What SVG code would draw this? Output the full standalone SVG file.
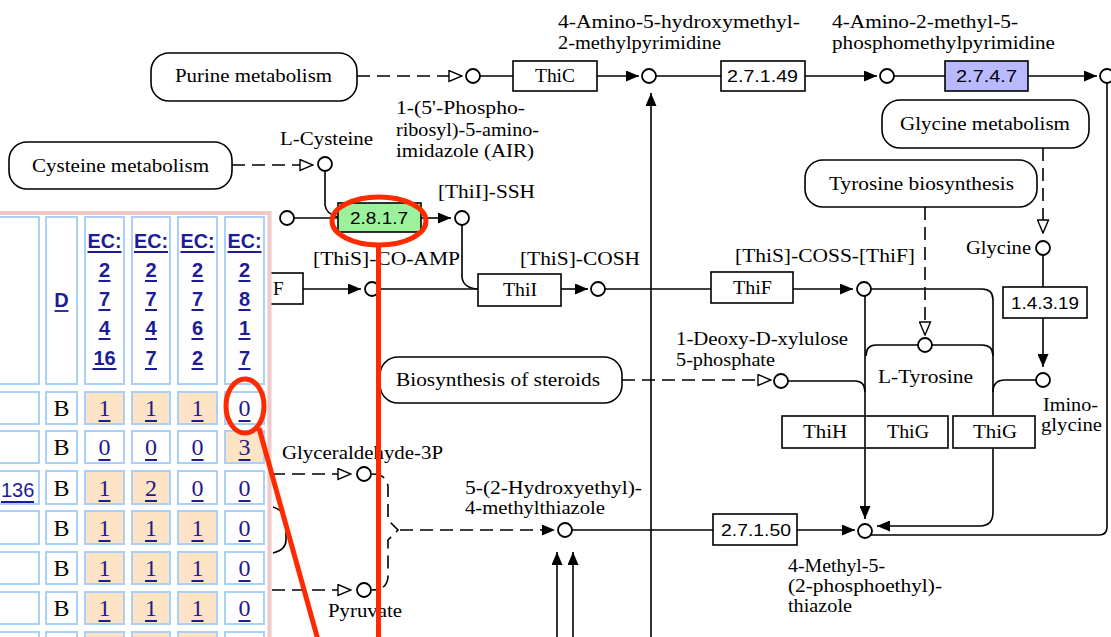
<svg xmlns="http://www.w3.org/2000/svg" width="1111" height="637" viewBox="0 0 1111 637">
<style>
.l{font-family:"Liberation Serif","DejaVu Serif",serif;font-size:19px;fill:#000}
.ec{font-family:"Liberation Sans",Arial,sans-serif;font-size:17px;fill:#000}
.ln{fill:none;stroke:#000;stroke-width:1.6}
.dl{fill:none;stroke:#000;stroke-width:1.6;stroke-dasharray:13 7}
.box{fill:#fff;stroke:#000;stroke-width:1.6}
.map{fill:#fff;stroke:#000;stroke-width:1.6}
.cpd{fill:#fff;stroke:#000;stroke-width:1.8}
.cell{fill:#fff;stroke:#a8d0f8;stroke-width:2}
.pc{fill:#fde4c6;stroke:#a8d0f8;stroke-width:2}
.th{font-family:"Liberation Sans",Arial,sans-serif;font-size:20px;font-weight:bold;fill:#1c1c96;text-anchor:middle}
.td{font-family:"Liberation Serif","DejaVu Serif",serif;font-size:24px;fill:#261a8a;text-anchor:middle}
.tb{font-family:"Liberation Serif","DejaVu Serif",serif;font-size:24px;fill:#000;text-anchor:middle}
.ul{stroke:#1c1c96;stroke-width:1.8}
.red{fill:none;stroke:#ff2a00;stroke-width:5}
</style>
<defs>
<marker id="fa" viewBox="0 0 13 11" refX="13" refY="5.5" markerWidth="13" markerHeight="11" markerUnits="userSpaceOnUse" orient="auto"><path d="M0,0 L13,5.5 L0,11 z" fill="#000"/></marker>
<marker id="ha" viewBox="-1 -1 15 13" refX="13" refY="5.5" markerWidth="15" markerHeight="13" markerUnits="userSpaceOnUse" orient="auto"><path d="M0,0 L13,5.5 L0,11 z" fill="#fff" stroke="#000" stroke-width="1.4"/></marker>
</defs>
<rect x="0" y="0" width="1111" height="637" fill="#fff"/>

<g id="connectors">
<path class="dl" d="M357,76 H462" marker-end="url(#ha)"/>
<path class="ln" d="M480,76 H513"/>
<path class="ln" d="M597,76 H639" marker-end="url(#fa)"/>
<path class="ln" d="M656,76 H721"/>
<path class="ln" d="M805,76 H877" marker-end="url(#fa)"/>
<path class="ln" d="M894,76 H945"/>
<path class="ln" d="M1028,76 H1097" marker-end="url(#fa)"/>
<path class="ln" d="M1107,83 V527 Q1107,535 1099,535 H871"/>
<path class="ln" d="M651,637 V93" marker-end="url(#fa)"/>
<path class="dl" d="M232,165 H313" marker-end="url(#ha)"/>
<path class="ln" d="M325,171 V205 Q326,214 338,217"/>
<path class="ln" d="M294,218 H338"/>
<path class="ln" d="M421,218 H451" marker-end="url(#fa)"/>
<path class="ln" d="M462,225 V277 Q463,288 478,289"/>
<path class="ln" d="M303,289 H361" marker-end="url(#fa)"/>
<path class="ln" d="M379,289 H478"/>
<path class="ln" d="M561,289 H588" marker-end="url(#fa)"/>
<path class="ln" d="M605,289 H711"/>
<path class="ln" d="M793,289 H853" marker-end="url(#fa)"/>
<path class="ln" d="M871,289 H982 Q993,289 993,300 V416"/>
<path class="ln" d="M993,448 V512 Q993,526 980,526 H877" marker-end="url(#fa)"/>
<path class="ln" d="M865,296 V519" marker-end="url(#fa)"/>
<path class="dl" d="M925,207 V335" marker-end="url(#ha)"/>
<path class="ln" d="M918,345 H876 Q866,345 866,356"/>
<path class="ln" d="M932,345 H982 Q993,345 993,356"/>
<path class="dl" d="M1043,148 V233" marker-end="url(#ha)"/>
<path class="ln" d="M1043,255 V287"/>
<path class="ln" d="M1043,318 V367" marker-end="url(#fa)"/>
<path class="ln" d="M1036,380 H1005 Q993,380 993,392"/>
<path class="dl" d="M622,380 H771" marker-end="url(#ha)"/>
<path class="ln" d="M788,381 H855 Q865,381 865,392"/>
<path class="dl" d="M272,474 H351" marker-end="url(#ha)"/>
<path class="dl" d="M272,590 H351" marker-end="url(#ha)"/>
<path class="dl" d="M372,474 Q387,474 388,487 V520 L398,530 L388,540 V577 Q387,590 372,590"/>
<path class="dl" d="M400,530 H555" marker-end="url(#fa)"/>
<path class="ln" d="M572,530 H713"/>
<path class="ln" d="M797,530 H855" marker-end="url(#fa)"/>
<path class="ln" d="M557,637 V552" marker-end="url(#fa)"/>
<path class="ln" d="M573,637 V552" marker-end="url(#fa)"/>
<path class="ln" d="M273,507 Q286,511 286,524 V540 Q286,550 273,553"/>
</g>

<g id="map-purine"><rect class="map" x="151" y="53" width="206" height="48" rx="18"/><text class="l" x="175" y="82" textLength="157" lengthAdjust="spacingAndGlyphs">Purine metabolism</text></g>
<g id="map-cysteine"><rect class="map" x="9" y="142" width="223" height="47" rx="18"/><text class="l" x="32" y="172" textLength="177" lengthAdjust="spacingAndGlyphs">Cysteine metabolism</text></g>
<g id="map-glycine"><rect class="map" x="882" y="100" width="207" height="48" rx="18"/><text class="l" x="900" y="130" textLength="170" lengthAdjust="spacingAndGlyphs">Glycine metabolism</text></g>
<g id="map-tyrosine"><rect class="map" x="805" y="160" width="232" height="47" rx="18"/><text class="l" x="829" y="190" textLength="185" lengthAdjust="spacingAndGlyphs">Tyrosine biosynthesis</text></g>
<g id="map-steroids"><rect class="map" x="380" y="357" width="242" height="46" rx="18"/><text class="l" x="396" y="386" textLength="204" lengthAdjust="spacingAndGlyphs">Biosynthesis of steroids</text></g>

<g id="c-air"><circle class="cpd" cx="473" cy="76" r="7"/><text class="l" x="396" y="114" textLength="129" lengthAdjust="spacingAndGlyphs">1-(5'-Phospho-</text><text class="l" x="396" y="136" textLength="143" lengthAdjust="spacingAndGlyphs">ribosyl)-5-amino-</text><text class="l" x="396" y="157" textLength="138" lengthAdjust="spacingAndGlyphs">imidazole (AIR)</text></g>
<g id="c-hmp"><circle class="cpd" cx="649" cy="76" r="7"/><text class="l" x="558" y="28" textLength="242" lengthAdjust="spacingAndGlyphs">4-Amino-5-hydroxymethyl-</text><text class="l" x="558" y="49" textLength="163" lengthAdjust="spacingAndGlyphs">2-methylpyrimidine</text></g>
<g id="c-hmpp"><circle class="cpd" cx="887" cy="76" r="7"/><text class="l" x="832" y="28" textLength="186" lengthAdjust="spacingAndGlyphs">4-Amino-2-methyl-5-</text><text class="l" x="832" y="49" textLength="223" lengthAdjust="spacingAndGlyphs">phosphomethylpyrimidine</text></g>
<g id="c-right"><circle class="cpd" cx="1107" cy="76" r="7"/></g>
<g id="c-cys"><circle class="cpd" cx="325" cy="164" r="7"/><text class="l" x="280" y="145" textLength="93" lengthAdjust="spacingAndGlyphs">L-Cysteine</text></g>
<g id="c-left"><circle class="cpd" cx="287" cy="218" r="7"/></g>
<g id="c-ssh"><circle class="cpd" cx="462" cy="218" r="7"/><text class="l" x="438" y="198" textLength="97" lengthAdjust="spacingAndGlyphs">[ThiI]-SSH</text></g>
<g id="c-amp"><circle class="cpd" cx="372" cy="289" r="7"/><text class="l" x="313" y="265" textLength="147" lengthAdjust="spacingAndGlyphs">[ThiS]-CO-AMP</text></g>
<g id="c-cosh"><circle class="cpd" cx="598" cy="289" r="7"/><text class="l" x="520" y="265" textLength="120" lengthAdjust="spacingAndGlyphs">[ThiS]-COSH</text></g>
<g id="c-coss"><circle class="cpd" cx="864" cy="289" r="7"/><text class="l" x="735" y="262" textLength="180" lengthAdjust="spacingAndGlyphs">[ThiS]-COSS-[ThiF]</text></g>
<g id="c-tyr"><circle class="cpd" cx="925" cy="345" r="7"/><text class="l" x="878" y="383" textLength="95" lengthAdjust="spacingAndGlyphs">L-Tyrosine</text></g>
<g id="c-gly"><circle class="cpd" cx="1043" cy="248" r="7"/><text class="l" x="966" y="254" textLength="65" lengthAdjust="spacingAndGlyphs">Glycine</text></g>
<g id="c-imino"><circle class="cpd" cx="1043" cy="380" r="7"/><text class="l" x="1043" y="411" textLength="55" lengthAdjust="spacingAndGlyphs">Imino-</text><text class="l" x="1041" y="431" textLength="61" lengthAdjust="spacingAndGlyphs">glycine</text></g>
<g id="c-dxp"><circle class="cpd" cx="781" cy="381" r="7"/><text class="l" x="676" y="345" textLength="172" lengthAdjust="spacingAndGlyphs">1-Deoxy-D-xylulose</text><text class="l" x="676" y="366" textLength="99" lengthAdjust="spacingAndGlyphs">5-phosphate</text></g>
<g id="c-g3p"><circle class="cpd" cx="364" cy="474" r="7"/><text class="l" x="282" y="459" textLength="161" lengthAdjust="spacingAndGlyphs">Glyceraldehyde-3P</text></g>
<g id="c-pyr"><circle class="cpd" cx="364" cy="590" r="7"/><text class="l" x="328" y="617" textLength="74" lengthAdjust="spacingAndGlyphs">Pyruvate</text></g>
<g id="c-hmt"><circle class="cpd" cx="565" cy="530" r="7"/><text class="l" x="465" y="494" textLength="177" lengthAdjust="spacingAndGlyphs">5-(2-Hydroxyethyl)-</text><text class="l" x="465" y="514" textLength="140" lengthAdjust="spacingAndGlyphs">4-methylthiazole</text></g>
<g id="c-hmtp"><circle class="cpd" cx="865" cy="531" r="7"/><text class="l" x="788" y="572" textLength="97" lengthAdjust="spacingAndGlyphs">4-Methyl-5-</text><text class="l" x="788" y="592" textLength="154" lengthAdjust="spacingAndGlyphs">(2-phosphoethyl)-</text><text class="l" x="788" y="612" textLength="64" lengthAdjust="spacingAndGlyphs">thiazole</text></g>

<g id="e-thic"><rect class="box" x="513" y="61" width="84" height="30"/><text class="l" x="535" y="82" textLength="40" lengthAdjust="spacingAndGlyphs">ThiC</text></g>
<g id="e-27149"><rect class="box" x="721" y="61" width="84" height="30"/><text class="ec" x="727" y="82" textLength="71" lengthAdjust="spacingAndGlyphs">2.7.1.49</text></g>
<g id="e-2747"><rect x="945" y="61" width="83" height="30" fill="#b9b9ff" stroke="#000" stroke-width="1.6"/><text class="ec" x="956" y="82" textLength="61" lengthAdjust="spacingAndGlyphs" fill="#2a2a90">2.7.4.7</text></g>
<g id="e-2817"><rect x="338" y="203" width="83" height="29" fill="#9cf29c" stroke="#000" stroke-width="1.6"/><text class="ec" x="350" y="224" textLength="58" lengthAdjust="spacingAndGlyphs" fill="#2e7d2e">2.8.1.7</text></g>
<g id="e-thif-left"><rect class="box" x="240" y="273" width="63" height="31"/><text class="l" x="273" y="295">F</text></g>
<g id="e-thii"><rect class="box" x="478" y="274" width="83" height="32"/><text class="l" x="503" y="296" textLength="34" lengthAdjust="spacingAndGlyphs">ThiI</text></g>
<g id="e-thif"><rect class="box" x="711" y="272" width="82" height="31"/><text class="l" x="733" y="294" textLength="39" lengthAdjust="spacingAndGlyphs">ThiF</text></g>
<g id="e-14319"><rect class="box" x="1003" y="287" width="84" height="31"/><text class="ec" x="1011" y="309" textLength="68" lengthAdjust="spacingAndGlyphs">1.4.3.19</text></g>
<g id="e-thihg"><rect class="box" x="782" y="416" width="166" height="32"/><path class="ln" d="M865,416 V448"/><text class="l" x="803" y="438" textLength="44" lengthAdjust="spacingAndGlyphs">ThiH</text><text class="l" x="887" y="438" textLength="42" lengthAdjust="spacingAndGlyphs">ThiG</text></g>
<g id="e-thig"><rect class="box" x="953" y="416" width="82" height="32"/><text class="l" x="973" y="438" textLength="44" lengthAdjust="spacingAndGlyphs">ThiG</text></g>
<g id="e-27150"><rect class="box" x="713" y="514" width="84" height="31"/><text class="ec" x="721" y="536" textLength="70" lengthAdjust="spacingAndGlyphs">2.7.1.50</text></g>

<g id="table">
<rect x="-10" y="213" width="279" height="430" fill="#fff"/>
<path d="M-10,213 H269.5 V645" fill="none" stroke="#efc8c8" stroke-width="4"/>
<rect class="cell" x="-4" y="217" width="43" height="167"/>
<rect class="cell" x="46" y="217" width="31" height="167"/>
<rect class="cell" x="85" y="217" width="39" height="167"/>
<rect class="cell" x="132" y="217" width="38" height="167"/>
<rect class="cell" x="178" y="217" width="39" height="167"/>
<rect class="cell" x="225" y="217" width="39" height="167"/>
<text class="th" x="61.5" y="307">D</text><line class="ul" x1="54.5" y1="311" x2="68.5" y2="311"/>
<g>
<text class="th" x="104.5" y="248" textLength="34" lengthAdjust="spacingAndGlyphs">EC:</text><text class="th" x="104.5" y="277">2</text><text class="th" x="104.5" y="306">7</text><text class="th" x="104.5" y="335">4</text><text class="th" x="104.5" y="365">16</text>
<text class="th" x="151" y="248" textLength="34" lengthAdjust="spacingAndGlyphs">EC:</text><text class="th" x="151" y="277">2</text><text class="th" x="151" y="306">7</text><text class="th" x="151" y="335">4</text><text class="th" x="151" y="365">7</text>
<text class="th" x="197.5" y="248" textLength="34" lengthAdjust="spacingAndGlyphs">EC:</text><text class="th" x="197.5" y="277">2</text><text class="th" x="197.5" y="306">7</text><text class="th" x="197.5" y="335">6</text><text class="th" x="197.5" y="365">2</text>
<text class="th" x="244.5" y="248" textLength="34" lengthAdjust="spacingAndGlyphs">EC:</text><text class="th" x="244.5" y="277">2</text><text class="th" x="244.5" y="306">8</text><text class="th" x="244.5" y="335">1</text><text class="th" x="244.5" y="365">7</text>
</g>
<path class="ul" d="M87.5,252 h34 M98.5,281 h12 M98.5,310 h12 M98.5,339 h12 M92.5,369 h24 M134,252 h34 M145,281 h12 M145,310 h12 M145,339 h12 M145,369 h12 M180.5,252 h34 M191.5,281 h12 M191.5,310 h12 M191.5,339 h12 M191.5,369 h12 M227.5,252 h34 M238.5,281 h12 M238.5,310 h12 M238.5,339 h12 M238.5,369 h12"/>
<rect class="cell" x="-4" y="392" width="43" height="32"/><rect class="cell" x="46" y="392" width="31" height="32"/>
<rect class="pc" x="85" y="392" width="39" height="32"/><rect class="pc" x="132" y="392" width="38" height="32"/><rect class="pc" x="178" y="392" width="39" height="32"/><rect class="cell" x="225" y="392" width="39" height="32"/>
<rect class="cell" x="-4" y="431" width="43" height="32"/><rect class="cell" x="46" y="431" width="31" height="32"/>
<rect class="cell" x="85" y="431" width="39" height="32"/><rect class="cell" x="132" y="431" width="38" height="32"/><rect class="cell" x="178" y="431" width="39" height="32"/><rect class="pc" x="225" y="431" width="39" height="32"/>
<rect class="cell" x="-4" y="471" width="43" height="33"/><rect class="cell" x="46" y="471" width="31" height="33"/>
<rect class="pc" x="85" y="471" width="39" height="33"/><rect class="pc" x="132" y="471" width="38" height="33"/><rect class="cell" x="178" y="471" width="39" height="33"/><rect class="cell" x="225" y="471" width="39" height="33"/>
<rect class="cell" x="-4" y="511" width="43" height="33"/><rect class="cell" x="46" y="511" width="31" height="33"/>
<rect class="pc" x="85" y="511" width="39" height="33"/><rect class="pc" x="132" y="511" width="38" height="33"/><rect class="pc" x="178" y="511" width="39" height="33"/><rect class="cell" x="225" y="511" width="39" height="33"/>
<rect class="cell" x="-4" y="552" width="43" height="32"/><rect class="cell" x="46" y="552" width="31" height="32"/>
<rect class="pc" x="85" y="552" width="39" height="32"/><rect class="pc" x="132" y="552" width="38" height="32"/><rect class="pc" x="178" y="552" width="39" height="32"/><rect class="cell" x="225" y="552" width="39" height="32"/>
<rect class="cell" x="-4" y="592" width="43" height="32"/><rect class="cell" x="46" y="592" width="31" height="32"/>
<rect class="pc" x="85" y="592" width="39" height="32"/><rect class="pc" x="132" y="592" width="38" height="32"/><rect class="pc" x="178" y="592" width="39" height="32"/><rect class="cell" x="225" y="592" width="39" height="32"/>
<rect class="cell" x="-4" y="632" width="43" height="32"/><rect class="cell" x="46" y="632" width="31" height="32"/>
<rect class="pc" x="85" y="632" width="39" height="32"/><rect class="pc" x="132" y="632" width="38" height="32"/><rect class="pc" x="178" y="632" width="39" height="32"/><rect class="cell" x="225" y="632" width="39" height="32"/>
<g>
<text class="tb" x="61.5" y="416">B</text><text class="td" x="104.5" y="416">1</text><text class="td" x="151" y="416">1</text><text class="td" x="197.5" y="416">1</text><text class="td" x="244.5" y="416">0</text>
<text class="tb" x="61.5" y="455">B</text><text class="td" x="104.5" y="455">0</text><text class="td" x="151" y="455">0</text><text class="td" x="197.5" y="455">0</text><text class="td" x="244.5" y="455">3</text>
<text class="tb" x="61.5" y="496">B</text><text class="td" x="104.5" y="496">1</text><text class="td" x="151" y="496">2</text><text class="td" x="197.5" y="496">0</text><text class="td" x="244.5" y="496">0</text>
<text class="tb" x="61.5" y="536">B</text><text class="td" x="104.5" y="536">1</text><text class="td" x="151" y="536">1</text><text class="td" x="197.5" y="536">1</text><text class="td" x="244.5" y="536">0</text>
<text class="tb" x="61.5" y="576">B</text><text class="td" x="104.5" y="576">1</text><text class="td" x="151" y="576">1</text><text class="td" x="197.5" y="576">1</text><text class="td" x="244.5" y="576">0</text>
<text class="tb" x="61.5" y="616">B</text><text class="td" x="104.5" y="616">1</text><text class="td" x="151" y="616">1</text><text class="td" x="197.5" y="616">1</text><text class="td" x="244.5" y="616">0</text>
</g>
<path d="M98.5,421 h12 M145,421 h12 M191.5,421 h12 M238.5,421 h12 M98.5,460 h12 M145,460 h12 M191.5,460 h12 M238.5,460 h12 M98.5,501 h12 M145,501 h12 M191.5,501 h12 M238.5,501 h12 M98.5,541 h12 M145,541 h12 M191.5,541 h12 M238.5,541 h12 M98.5,581 h12 M145,581 h12 M191.5,581 h12 M238.5,581 h12 M98.5,621 h12 M145,621 h12 M191.5,621 h12 M238.5,621 h12" stroke="#261a8a" stroke-width="1.8"/>
<text x="1" y="497" font-family="Liberation Sans, Arial, sans-serif" font-size="20" fill="#1c1c96">136</text>
<line class="ul" x1="1" y1="502" x2="34" y2="502"/>
</g>

<g id="annotations">
<ellipse class="red" cx="379" cy="221" rx="47" ry="24"/>
<line class="red" x1="378.5" y1="245" x2="378.5" y2="640"/>
<ellipse class="red" cx="245" cy="406" rx="19" ry="27"/>
<line class="red" x1="259" y1="428" x2="318" y2="640"/>
</g>
</svg>
